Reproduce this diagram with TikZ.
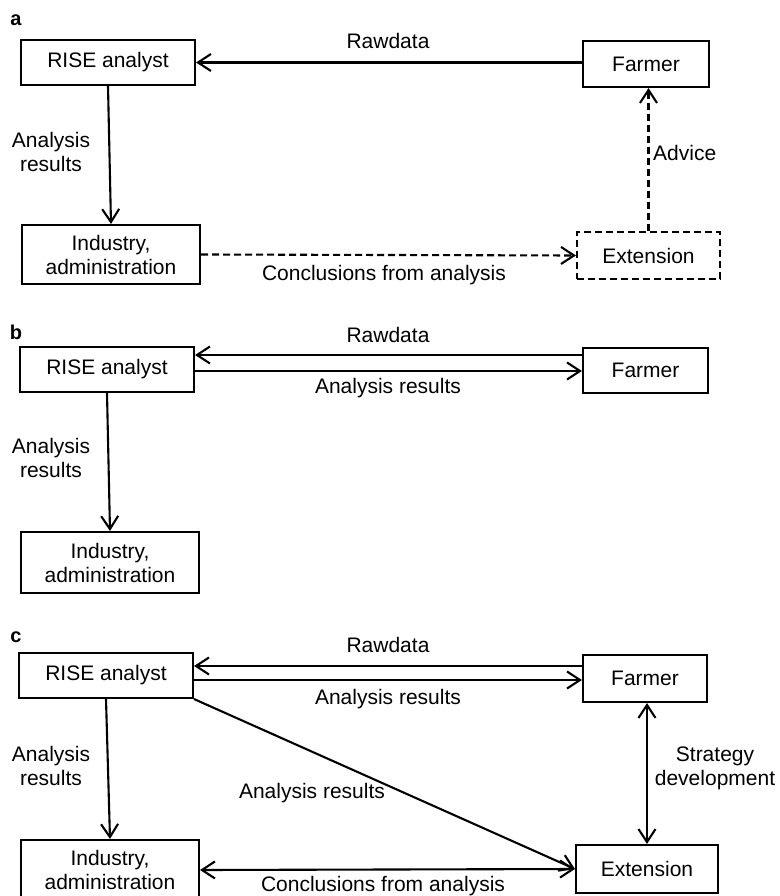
\documentclass[tikz,border=0pt]{standalone}
\usepackage{fontspec}
\setmainfont{Liberation Sans}
\usetikzlibrary{arrows.meta}
\begin{document}
\begin{tikzpicture}[x=1pt,y=-1pt,
  every node/.style={font=\fontsize{21}{24}\selectfont, inner sep=0pt},
  box/.style={draw, line width=2.1pt, minimum width=#1, align=center},
  lbl/.style={align=center},
  panel/.style={font=\bfseries\fontsize{20}{22}\selectfont},
  con/.style={line width=2.1pt},
  arr/.style={con, -{Straight Barb[length=13pt,width=17pt]}},
  darr/.style={con, {Straight Barb[length=13pt,width=17pt]}-{Straight Barb[length=13pt,width=17pt]}},
  dsh/.style={dash pattern=on 7pt off 4pt}
]
\useasboundingbox (0,0) rectangle (779,896);
\fill[white] (0,0) rectangle (779,896);

% ---------- panel a ----------
\node[panel] (pa) at (16,20) {a};
\node[box=174pt, minimum height=45pt] (riseA) at (108,62.5) {RISE analyst};
\node[box=126pt, minimum height=46pt] (farmerA) at (646,64) {Farmer};
\node[box=178pt, minimum height=59pt] (indA) at (111,254.5) {Industry,\\administration};
\node[box=143pt, minimum height=47pt, dsh] (extA) at (648.5,255.5) {Extension};

\coordinate (raA) at (riseA.east);
\draw[arr] (raA -| farmerA.west) -- (raA);
\node[lbl] (rawA) at (388,41) {Rawdata};
\draw[arr] (riseA.south) -- (indA.north);
\node[lbl] (arA) at (51,152) {Analysis\\results};
\draw[arr, dsh] (indA.east) -- (extA.west);
\node[lbl] (conA) at (384,275) {Conclusions from analysis};
\coordinate (exA) at (extA.north);
\draw[arr, dsh] (exA) -- (exA |- farmerA.south);
\node[lbl, anchor=west] (advA) at (653,153) {Advice};

% ---------- panel b ----------
\node[panel] (pb) at (16,332) {b};
\node[box=174pt, minimum height=45pt] (riseB) at (107,369.5) {RISE analyst};
\node[box=125pt, minimum height=45pt] (farmerB) at (645.5,370.5) {Farmer};
\node[box=178pt, minimum height=61pt] (indB) at (110,562.5) {Industry,\\administration};

\coordinate (rbU) at ([yshift=14.5pt]riseB.east);
\coordinate (rbD) at ([yshift=-1.5pt]riseB.east);
\draw[arr] (rbU -| farmerB.west) -- (rbU);
\draw[arr] (rbD) -- (rbD -| farmerB.west);
\node[lbl] (rawB) at (388,335) {Rawdata};
\node[lbl] (resB) at (388,388) {Analysis results};
\draw[arr] (riseB.south) -- (indB.north);
\node[lbl] (arB) at (51,458) {Analysis\\results};

% ---------- panel c ----------
\node[panel] (pc) at (16,637) {c};
\node[box=174pt, minimum height=45pt] (riseC) at (106,675.5) {RISE analyst};
\node[box=124pt, minimum height=47pt] (farmerC) at (645,678.5) {Farmer};
\node[box=178pt, minimum height=60pt] (indC) at (110,870) {Industry,\\administration};
\node[box=142pt, minimum height=48pt] (extC) at (647,869) {Extension};

\coordinate (rcU) at ([yshift=9.5pt]riseC.east);
\coordinate (rcD) at ([yshift=-4.5pt]riseC.east);
\draw[arr] (rcU -| farmerC.west) -- (rcU);
\draw[arr] (rcD) -- (rcD -| farmerC.west);
\node[lbl] (rawC) at (388,645) {Rawdata};
\node[lbl] (resC) at (388,699) {Analysis results};
\draw[arr] (riseC.south) -- (indC.north);
\node[lbl] (arC) at (51,766) {Analysis\\results};
\draw[arr] (riseC.south east) -- (extC.west);
\node[lbl] (diagC) at (312,793) {Analysis results};
\draw[darr] (indC.east) -- (extC.west);
\node[lbl] (conC) at (383,886) {Conclusions from analysis};
\coordinate (exC) at (extC.north);
\draw[darr] (exC |- farmerC.south) -- (exC);
\node[lbl] (strC) at (715,768.5) {Strategy\\development};
\end{tikzpicture}
\end{document}
